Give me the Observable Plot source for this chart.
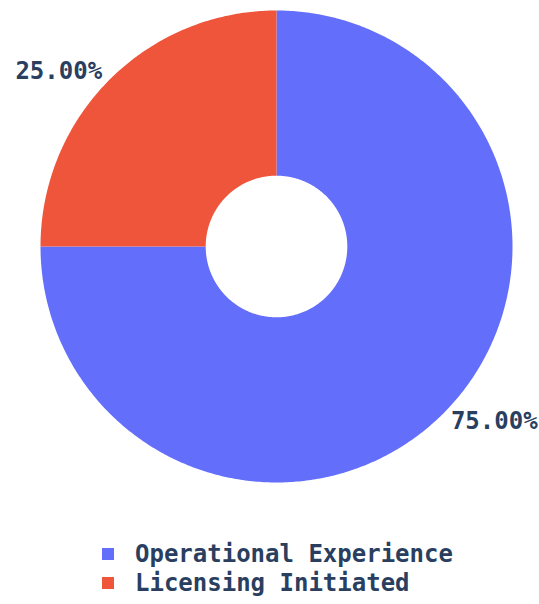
<!DOCTYPE html>
<html><head><meta charset="utf-8">
<script src="https://cdn.jsdelivr.net/npm/d3@7"></script>
<script src="https://cdn.jsdelivr.net/npm/@observablehq/plot@0.6"></script>
<style>
body{margin:0;background:#fff;font-family:"DejaVu Sans Mono",monospace;}
#chart{position:absolute;left:0;top:0}
#legend{position:absolute;left:102px;top:539px;font-size:24px;font-weight:bold;color:#2a3f5f;font-family:"DejaVu Sans Mono",monospace}
.row{display:flex;align-items:center;height:29px}
.sw{width:12px;height:12px;margin-right:21px;flex:none}
</style></head><body>
<div id="chart"></div><div id="legend"></div>
<script>
const categories = ["Operational Experience", "Licensing Initiated"];
const values = [75, 25];
const colors = ["#636EFA", "#EF553B"];
const labels = ["75.00%", "25.00%"];

const hole = 0.30;
const pie = d3.pie().sort(null).startAngle(0).endAngle(2 * Math.PI)(values);
const pts = [];
pie.forEach((a, i) => {
  const n = Math.max(4, Math.ceil((a.endAngle - a.startAngle) / 0.01));
  for (let k = 0; k <= n; k++) {
    const t = a.startAngle + (a.endAngle - a.startAngle) * k / n;
    pts.push({cat: categories[i], x: Math.sin(t), y: Math.cos(t)});
  }
  for (let k = n; k >= 0; k--) {
    const t = a.startAngle + (a.endAngle - a.startAngle) * k / n;
    pts.push({cat: categories[i], x: hole * Math.sin(t), y: hole * Math.cos(t)});
  }
});
const lab = pie.map((a, i) => {
  const m = (a.startAngle + a.endAngle) / 2;
  const r = 1.045;
  return {text: labels[i], x: r * Math.sin(m), y: r * Math.cos(m)};
});

const chart = Plot.plot({
  width: 539, height: 500,
  margin: 0,
  x: {domain: [-1, 1], range: [40, 512], axis: null},
  y: {domain: [-1, 1], range: [482, 10], axis: null},
  color: {domain: categories, range: colors},
  style: {fontFamily: "DejaVu Sans Mono, monospace", background: "white"},
  marks: [
    Plot.line(pts, {x: "x", y: "y", z: "cat", fill: "cat", stroke: null, curve: "linear-closed"}),
    Plot.text(lab.filter(d => d.x < 0), {x: "x", y: "y", text: "text", textAnchor: "end", fontSize: 24, fontWeight: "bold", fill: "#2a3f5f", dy: -1}),
    Plot.text(lab.filter(d => d.x >= 0), {x: "x", y: "y", text: "text", textAnchor: "start", fontSize: 24, fontWeight: "bold", fill: "#2a3f5f"})
  ]
});
document.getElementById("chart").appendChild(chart);

const leg = document.getElementById("legend");
categories.forEach((c, i) => {
  const row = document.createElement("div");
  row.className = "row";
  const sw = document.createElement("span");
  sw.className = "sw";
  sw.style.background = colors[i];
  const tx = document.createElement("span");
  tx.textContent = c;
  row.appendChild(sw); row.appendChild(tx);
  leg.appendChild(row);
});
</script>
</body></html>
